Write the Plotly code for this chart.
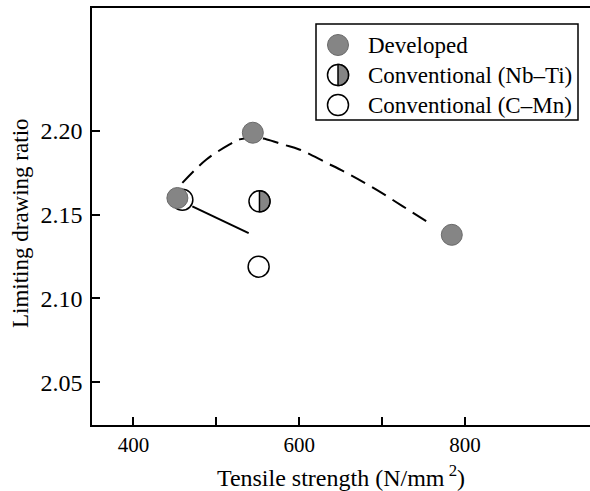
import numpy as np
import plotly.graph_objects as go

# ---- data ----
dev_x = [453, 544, 784]
dev_y = [2.160, 2.199, 2.138]
nbti_x = [552]
nbti_y = [2.158]
cmn_x = [459, 551]
cmn_y = [2.159, 2.119]

# dashed trend through developed steels
dev_fit_x = [459, 488, 516, 528, 545, 561, 580, 600, 633, 661, 693, 725, 757]
dev_fit_y = [2.169, 2.183, 2.192, 2.195, 2.196, 2.195, 2.192, 2.189, 2.181, 2.174, 2.165, 2.155, 2.145]
# solid trend for conventional C-Mn
cmn_fit_x = [471, 539]
cmn_fit_y = [2.155, 2.139]

x_ticks = [400, 600, 800]
x_minor = [500, 700]
y_ticks = [2.05, 2.10, 2.15, 2.20]
y_ticktext = ["2.05", "2.10", "2.15", "2.20"]

legend_names = ["Developed", "Conventional (Nb\u2013Ti)", "Conventional (C\u2013Mn)"]

FONT = "Liberation Serif"
GREY = "#858585"
GREY_EDGE = "#6a6a6a"
MS = 21

fig = go.Figure()

fig.add_trace(go.Scatter(x=dev_fit_x, y=dev_fit_y, mode="lines",
                         line=dict(color="black", width=2, dash="16px,8px", shape="spline"),
                         showlegend=False, hoverinfo="skip"))
fig.add_trace(go.Scatter(x=cmn_fit_x, y=cmn_fit_y, mode="lines", line=dict(color="black", width=2),
                         showlegend=False, hoverinfo="skip"))
fig.add_trace(go.Scatter(x=cmn_x, y=cmn_y, mode="markers", name=legend_names[2],
                         marker=dict(size=MS, color="white", line=dict(color="black", width=1.5)), showlegend=False))
fig.add_trace(go.Scatter(x=nbti_x, y=nbti_y, mode="markers", name=legend_names[1],
                         marker=dict(size=MS, color="white", line=dict(color="black", width=1.5)), showlegend=False))
fig.add_trace(go.Scatter(x=dev_x, y=dev_y, mode="markers", name=legend_names[0],
                         marker=dict(size=MS, color=GREY, line=dict(color=GREY_EDGE, width=1)), showlegend=False))

# half-filled symbol path (right half grey), pixel offsets
r = MS / 2
t = np.linspace(-np.pi / 2, np.pi / 2, 25)
half_path = "M " + " L ".join(f"{r*np.cos(a):.2f},{r*np.sin(a):.2f}" for a in t) + " Z"

shapes = []
for xv, yv in zip(nbti_x, nbti_y):
    shapes.append(dict(type="path", xref="x", yref="y", xsizemode="pixel", ysizemode="pixel",
                       xanchor=xv, yanchor=yv, path=half_path, fillcolor=GREY,
                       line=dict(color="black", width=1.5), layer="above"))

W = 590
L, R, T, B = 92, W, 8, 425
px = lambda v: (v - L) / (R - L)
py = lambda v: (B - v) / (B - T)
shapes.append(dict(type="rect", xref="paper", yref="paper", x0=px(316), x1=px(578), y0=py(120), y1=py(24),
                   line=dict(color="black", width=1.5), fillcolor="white", layer="above"))
rows = [45, 75, 105]
leg_mx = px(338)
leg_styles = [(GREY, GREY_EDGE, 1), ("white", "black", 1.5), ("white", "black", 1.5)]
for ry, (fc, lc, lw) in zip(rows, leg_styles):
    shapes.append(dict(type="circle", xref="paper", yref="paper", xsizemode="pixel", ysizemode="pixel",
                       xanchor=leg_mx, yanchor=py(ry), x0=-r, x1=r, y0=-r, y1=r,
                       fillcolor=fc, line=dict(color=lc, width=lw), layer="above"))
shapes.append(dict(type="path", xref="paper", yref="paper", xsizemode="pixel", ysizemode="pixel",
                   xanchor=leg_mx, yanchor=py(rows[1]), path=half_path, fillcolor=GREY,
                   line=dict(color="black", width=1.5), layer="above"))
annotations = []
for name, ry in zip(legend_names, rows):
    annotations.append(dict(xref="paper", yref="paper", x=px(366), y=py(ry), text=name, showarrow=False,
                            xanchor="left", yanchor="middle", font=dict(family=FONT, size=23, color="black")))
# y-axis title
annotations.append(dict(xref="paper", yref="paper", x=px(20), y=py(223), text="Limiting drawing ratio",
                        textangle=-90, showarrow=False, xanchor="center", yanchor="middle",
                        font=dict(family=FONT, size=23, color="black")))

x_max = 350 + (W - 92) / 0.829

fig.update_layout(
    width=W, height=491,
    margin=dict(l=92, r=0, t=8, b=66),
    paper_bgcolor="white", plot_bgcolor="white",
    font=dict(family=FONT, size=21, color="black"),
    shapes=shapes, annotations=annotations,
    xaxis=dict(range=[350, x_max], tickvals=x_ticks, ticks="inside", ticklen=8,
               tickwidth=1.5, tickcolor="black", showgrid=False, zeroline=False, showline=True,
               linecolor="black", linewidth=1.5, mirror=True,
               minor=dict(tickvals=x_minor, ticks="inside", ticklen=8, tickwidth=1.5, tickcolor="black", showgrid=False),
               title=dict(text="Tensile strength (N/mm<sup> 2</sup>)", font=dict(family=FONT, size=24), standoff=18),
               tickfont=dict(family=FONT, size=21)),
    yaxis=dict(range=[2.0244, 2.2735], tickvals=y_ticks, ticktext=y_ticktext, ticks="inside", ticklen=8,
               tickwidth=1.5, tickcolor="black", showgrid=False, zeroline=False, showline=True,
               linecolor="black", linewidth=1.5, mirror=False, ticklabelstandoff=3,
               tickfont=dict(family=FONT, size=24)),
)

fig.write_html("out.html", config={"displayModeBar": False},
               post_script="document.body.style.margin='0px';document.body.style.overflow='hidden';"
                           "document.documentElement.style.overflow='hidden';")
